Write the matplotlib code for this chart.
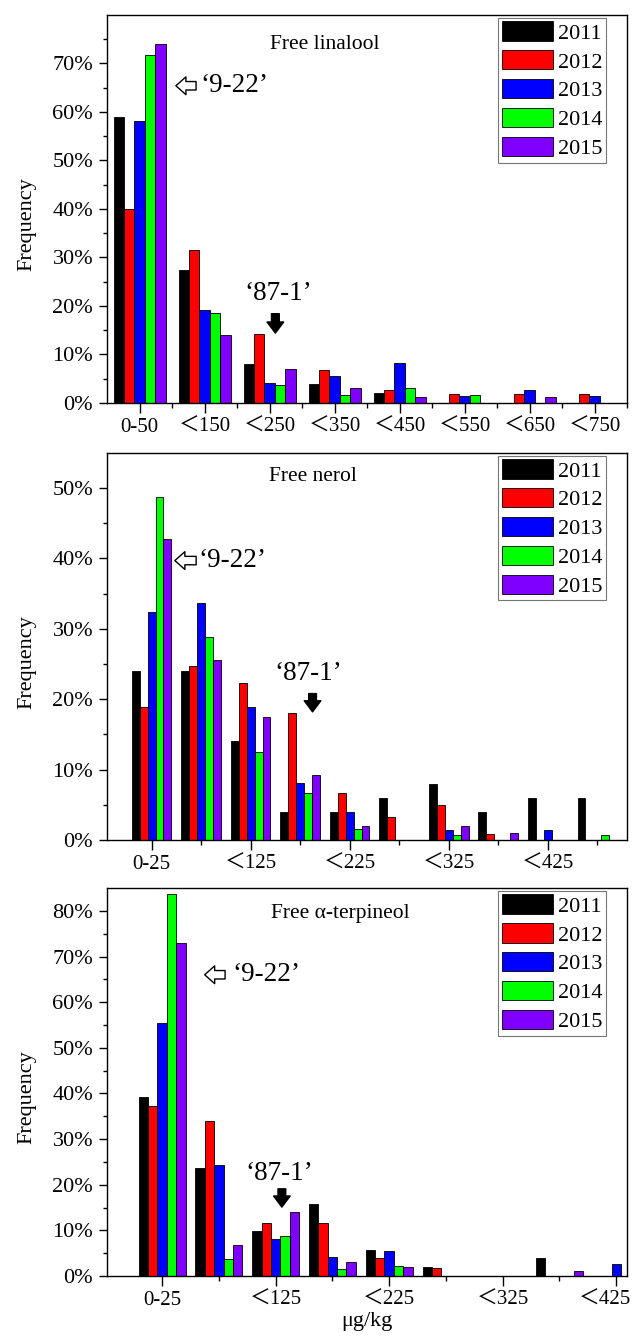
import numpy as np
import matplotlib.pyplot as plt
from matplotlib.ticker import FixedLocator, FuncFormatter
from matplotlib.transforms import ScaledTranslation

plt.rcParams['font.family'] = ['Liberation Serif', 'Noto Sans CJK SC']
plt.rcParams['axes.linewidth'] = 1.0

years = ['2011', '2012', '2013', '2014', '2015']
colores = ['#000000', '#ff0000', '#0000ff', '#00ff00', '#8000ff']

# Free linalool (%), una fila por año
linalool_ticks = ['0-50', '＜150', '＜250', '＜350', '＜450', '＜550', '＜650', '＜750']
linalool = [
    [58.9, 27.5, 8.0, 4.0, 2.1, 0, 0, 0],
    [40.0, 31.6, 14.2, 6.8, 2.6, 1.8, 1.8, 1.8],
    [58.1, 19.1, 4.1, 5.5, 8.2, 1.4, 2.7, 1.4],
    [71.8, 18.6, 3.8, 1.6, 3.1, 1.6, 0, 0],
    [74.0, 14.1, 7.1, 3.1, 1.2, 0, 1.2, 0],
]

# Free nerol (%)
nerol_ticks = ['0-25', '＜125', '＜225', '＜325', '＜425']
nerol = [
    [24.0, 24.0, 14.0, 4.0, 4.0, 6.0, 8.0, 4.0, 6.0, 6.0],
    [18.9, 24.7, 22.3, 18.1, 6.6, 3.3, 5.0, 0.8, 0, 0],
    [32.4, 33.7, 18.9, 8.1, 4.0, 0, 1.4, 0, 1.4, 0],
    [48.8, 28.9, 12.5, 6.6, 1.5, 0, 0.7, 0, 0, 0.7],
    [42.8, 25.5, 17.4, 9.2, 2.0, 0, 2.0, 1.0, 0, 0],
]

# Free alpha-terpineol (%)
terpineol_ticks = ['0-25', '＜125', '＜225', '＜325', '＜425']
terpineol = [
    [39.2, 23.7, 9.8, 15.7, 5.8, 2.0, 0, 3.9, 0],
    [37.3, 33.9, 11.6, 11.6, 4.0, 1.7, 0, 0, 0],
    [55.4, 24.4, 8.1, 4.2, 5.4, 0, 0, 0, 2.7],
    [83.8, 3.7, 8.8, 1.5, 2.2, 0, 0, 0, 0],
    [73.0, 6.9, 14.0, 3.1, 2.0, 0, 0, 1.0, 0],
]


def dibujar(ax, freq, ticks, paso, xlim, ymax, yticks, w):
    n = len(freq[0])
    x = np.arange(n)
    for i, (vals, c, yr) in enumerate(zip(freq, colores, years)):
        ax.bar(x + (i - 2) * w, vals, w, color=c, edgecolor='black',
               linewidth=0.6, label=yr)
    ax.set_xlim(*xlim)
    ax.set_ylim(0, ymax)
    ax.xaxis.set_major_locator(FixedLocator(np.arange(0, n, paso)))
    ax.set_xticklabels(ticks)
    if paso == 1:
        menores = np.arange(0.5, n, 1.0)
    else:
        menores = np.arange(1, n, 2)
    ax.xaxis.set_minor_locator(FixedLocator(menores))
    ax.yaxis.set_major_locator(FixedLocator(yticks))
    ax.yaxis.set_minor_locator(FixedLocator(np.arange(5, ymax, 10)))
    ax.yaxis.set_major_formatter(FuncFormatter(lambda v, p: f'{v:.0f}%'))
    ax.tick_params(axis='both', which='both', direction='out',
                   top=False, right=False, width=1)
    ax.tick_params(axis='x', which='major', length=7, labelsize=15)
    ax.tick_params(axis='x', which='minor', length=3.5)
    ax.tick_params(axis='y', which='major', length=6, pad=4, labelsize=16)
    ax.tick_params(axis='y', which='minor', length=3)
    ax.set_ylabel('Frequency', fontsize=16)
    ax.yaxis.set_label_coords(-0.135, 0.46)
    leg = ax.legend(loc='upper right', bbox_to_anchor=(0.96, 0.992),
                    borderaxespad=0, fontsize=16, fancybox=False,
                    framealpha=1, edgecolor='#777777', handlelength=2.3,
                    handleheight=0.95, handletextpad=0.25, labelspacing=0.3,
                    borderpad=0.15)
    leg.get_frame().set_linewidth(0.8)


def flechas(ax, titulo, pt, p922, p871, f922, f871):
    ax.text(pt[0], pt[1], titulo, fontsize=15.5, ha='center', va='center')
    # flecha hueca hacia la izquierda
    ax.annotate('', xy=(f922[0], f922[2]), xytext=(f922[1], f922[2]),
                arrowprops=dict(arrowstyle='simple,head_length=0.45,head_width=0.8,tail_width=0.38',
                                fc='white', ec='black', lw=1, mutation_scale=16,
                                shrinkA=0, shrinkB=0))
    ax.text(p922[0], p922[1], '‘9-22’', fontsize=19.5, ha='left', va='center')
    ax.text(p871[0], p871[1], '‘87-1’', fontsize=19.5, ha='center', va='center')
    # flecha negra hacia abajo
    ax.annotate('', xy=(f871[0], f871[2]), xytext=(f871[0], f871[1]),
                arrowprops=dict(arrowstyle='simple,head_length=0.5,head_width=0.75,tail_width=0.35',
                                fc='black', ec='black', lw=1, mutation_scale=16,
                                shrinkA=0, shrinkB=0))


fig = plt.figure(figsize=(6.34, 13.36), dpi=100)
ax1 = fig.add_axes([0.1688, 0.6984, 0.8202, 0.2904])
ax2 = fig.add_axes([0.1688, 0.3713, 0.8202, 0.2897])
ax3 = fig.add_axes([0.1688, 0.0449, 0.8202, 0.2904])

dibujar(ax1, linalool, linalool_ticks, 1, (-0.5, 7.5), 80, np.arange(0, 71, 10), 0.16)
flechas(ax1, 'Free linalool', (2.85, 74.0), (0.93, 65.4), (2.14, 22.5),
        (0.56, 0.87, 65.4), (2.09, 18.4, 14.4))

dibujar(ax2, nerol, nerol_ticks, 2, (-0.9, 9.6), 55, np.arange(0, 51, 10), 0.16)
flechas(ax2, 'Free nerol', (3.26, 51.6), (0.94, 39.7), (3.16, 23.7),
        (0.47, 0.90, 39.7), (3.25, 20.8, 18.2))

dibujar(ax3, terpineol, terpineol_ticks, 2, (-0.97, 8.19), 85, np.arange(0, 81, 10), 0.165)
flechas(ax3, 'Free α-terpineol', (3.14, 79.5), (1.24, 66.0), (2.07, 22.4),
        (0.75, 1.11, 66.0), (2.11, 19.1, 15.1))
ax3.set_xlabel('μg/kg', fontsize=16, labelpad=2)

# la última etiqueta del panel inferior va algo corrida a la izquierda
ultima = ax3.get_xticklabels()[-1]
ultima.set_transform(ultima.get_transform() + ScaledTranslation(-0.11, 0, fig.dpi_scale_trans))

fig.savefig('out.png', dpi=100)
